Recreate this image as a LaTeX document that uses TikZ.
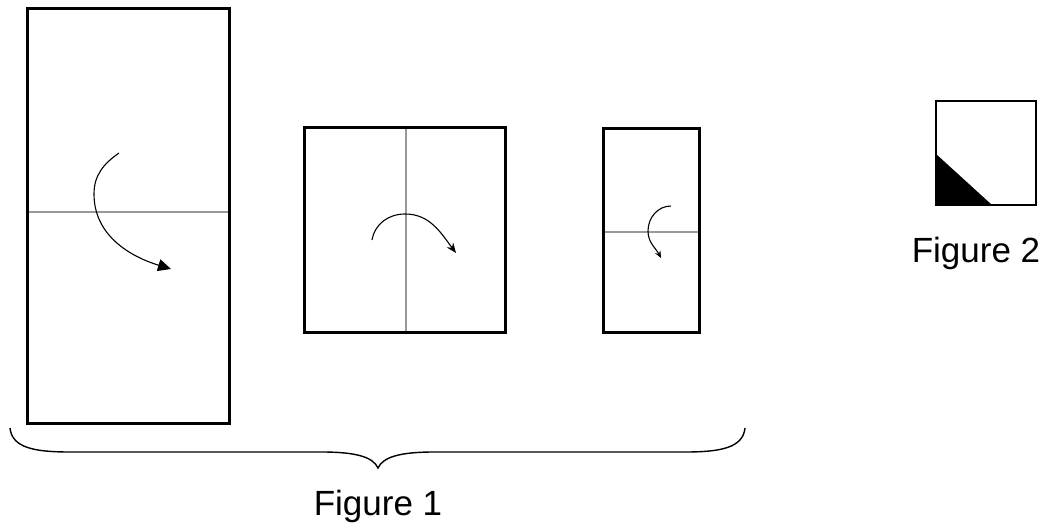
\documentclass[tikz,border=0pt]{standalone}
\usepackage{fontspec}
\setmainfont{Liberation Sans}
\usetikzlibrary{arrows.meta}

\begin{document}
\begin{tikzpicture}[x=1pt,y=-1pt,
  sheet/.style={line width=3pt},
  fold/.style={gray!80,line width=1.3pt},
  turn/.style={line width=1.1pt},
  label/.style={font=\fontsize{35}{42}\selectfont,anchor=base}]
\useasboundingbox (0,0) rectangle (1051,529);
% Figure 1: the three sheets
\draw[fold] (27,212) -- (229,212);
\draw[sheet] (27,9) rectangle (229,423);
\draw[turn,-{Triangle[length=13pt,width=12pt]}] (119,153) to[out=215,in=90] (94,194) to[out=-90,in=163] (171,269);

\draw[fold] (406,128) -- (406,332);
\draw[sheet] (304,128) rectangle (505,332);
\draw[turn,-{Stealth[length=10pt,width=8pt]}] (372,240) to[out=80,in=180] (405,214) to[out=0,in=127] (456,253);

\draw[fold] (603,232) -- (699,232);
\draw[sheet] (603,129) rectangle (699,332);
\draw[turn,-{Stealth[length=7pt,width=6pt]}] (671,206) to[out=180,in=90] (648,231) to[out=-90,in=118] (661,258);

% brace
\draw[line width=1.4pt] (10,428) .. controls (12,448) and (35,452) .. (70,452) -- (322,452)
  .. controls (356,452) and (373,457) .. (378,468)
  .. controls (383,457) and (400,452) .. (434,452) -- (685,452)
  .. controls (720,452) and (743,448) .. (745,428);
\node[label] (fig1) at (378,515) {Figure 1};

% Figure 2
\fill (936,154) -- (992,205) -- (936,205) -- cycle;
\draw[line width=2pt] (936,101) rectangle (1036,205);
\node[label] (fig2) at (976,262) {Figure 2};
\end{tikzpicture}
\end{document}
